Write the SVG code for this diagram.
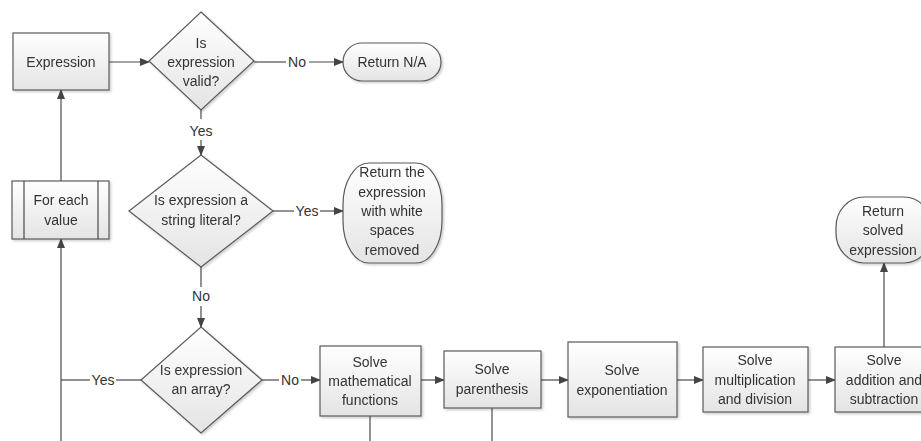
<svg xmlns="http://www.w3.org/2000/svg" width="921" height="441" viewBox="0 0 921 441">
<style>
.s{fill:url(#g);stroke:#5a5a5a;stroke-width:1.2}
.t{font-family:"Liberation Sans",Arial,sans-serif;font-size:14px;fill:#333;text-anchor:middle}
.c{fill:none;stroke:#4a4a4a;stroke-width:1.2}
.a{marker-end:url(#ar)}
</style>
<defs>
<linearGradient id="g" x1="0" y1="0" x2="0" y2="1"><stop offset="0" stop-color="#ffffff"/><stop offset="1" stop-color="#e4e4e4"/></linearGradient>
<filter id="sh" x="-10%" y="-10%" width="130%" height="130%"><feDropShadow dx="1.5" dy="1.5" stdDeviation="1" flood-color="#000" flood-opacity="0.2"/></filter>
<marker id="ar" markerWidth="10" markerHeight="8" refX="9" refY="4" orient="auto" markerUnits="userSpaceOnUse"><path d="M0,0 L10,4 L0,8 z" fill="#444"/></marker>
</defs>
<rect width="921" height="441" fill="#fff"/>
<g id="connectors">
<line class="c a" x1="109" y1="62" x2="149" y2="62"/>
<line class="c" x1="254" y1="62" x2="286" y2="62"/>
<line class="c a" x1="309" y1="62" x2="343" y2="62"/>
<text class="t" x="297" y="67">No</text>
<line class="c" x1="201" y1="110" x2="201" y2="119"/>
<text class="t" x="201" y="136">Yes</text>
<line class="c a" x1="201" y1="140" x2="201" y2="155"/>
<line class="c" x1="273" y1="211" x2="294" y2="211"/>
<text class="t" x="307" y="216">Yes</text>
<line class="c a" x1="320" y1="211" x2="343" y2="211"/>
<line class="c" x1="201" y1="267" x2="201" y2="287"/>
<text class="t" x="201" y="301">No</text>
<line class="c a" x1="201" y1="306" x2="201" y2="327"/>
<line class="c" x1="262" y1="380" x2="279" y2="380"/>
<text class="t" x="290" y="385">No</text>
<line class="c a" x1="301" y1="380" x2="320" y2="380"/>
<line class="c" x1="141" y1="380" x2="116" y2="380"/>
<text class="t" x="103" y="385">Yes</text>
<line class="c" x1="90" y1="380" x2="61" y2="380"/>
<line class="c a" x1="61" y1="441" x2="61" y2="239"/>
<line class="c a" x1="61" y1="181" x2="61" y2="90"/>
<line class="c a" x1="421" y1="380" x2="444" y2="380"/>
<line class="c a" x1="541" y1="380" x2="568" y2="380"/>
<line class="c a" x1="677" y1="380" x2="703" y2="380"/>
<line class="c a" x1="808" y1="380" x2="835" y2="380"/>
<line class="c a" x1="884" y1="347" x2="884" y2="263"/>
<line class="c" x1="370" y1="416" x2="370" y2="441"/>
<line class="c" x1="492" y1="408" x2="492" y2="441"/>
</g>
<g id="expression" filter="url(#sh)">
<rect class="s" x="13" y="33" width="96" height="57"/>
<text class="t" x="61" y="67">Expression</text>
</g>
<g id="valid" filter="url(#sh)">
<polygon class="s" points="201,12 254,61 201,110 149,61"/>
<text class="t" x="201" y="48">Is</text>
<text class="t" x="201" y="67">expression</text>
<text class="t" x="201" y="86">valid?</text>
</g>
<g id="return-na" filter="url(#sh)">
<rect class="s" x="343" y="43" width="98" height="38" rx="19"/>
<text class="t" x="392" y="67">Return N/A</text>
</g>
<g id="for-each" filter="url(#sh)">
<rect class="s" x="12" y="181" width="97" height="58"/>
<line class="c" x1="24" y1="181" x2="24" y2="239"/>
<line class="c" x1="98" y1="181" x2="98" y2="239"/>
<text class="t" x="61" y="205">For each</text>
<text class="t" x="61" y="225">value</text>
</g>
<g id="string-literal" filter="url(#sh)">
<polygon class="s" points="201,155 273,211 201,267 129,211"/>
<text class="t" x="201" y="205">Is expression a</text>
<text class="t" x="201" y="225">string literal?</text>
</g>
<g id="return-trimmed" filter="url(#sh)">
<rect class="s" x="343" y="163" width="99" height="100" rx="26" ry="42"/>
<text class="t" x="392" y="177">Return the</text>
<text class="t" x="392" y="197">expression</text>
<text class="t" x="392" y="216">with white</text>
<text class="t" x="392" y="235">spaces</text>
<text class="t" x="392" y="255">removed</text>
</g>
<g id="array" filter="url(#sh)">
<polygon class="s" points="201,327 262,380 201,433 141,380"/>
<text class="t" x="201" y="375">Is expression</text>
<text class="t" x="201" y="394">an array?</text>
</g>
<g id="solve-functions" filter="url(#sh)">
<rect class="s" x="320" y="346" width="101" height="70"/>
<text class="t" x="370" y="367">Solve</text>
<text class="t" x="370" y="386">mathematical</text>
<text class="t" x="370" y="405">functions</text>
</g>
<g id="solve-parenthesis" filter="url(#sh)">
<rect class="s" x="444" y="351" width="97" height="57"/>
<text class="t" x="492" y="374">Solve</text>
<text class="t" x="492" y="394">parenthesis</text>
</g>
<g id="solve-exponentiation" filter="url(#sh)">
<rect class="s" x="568" y="342" width="109" height="75"/>
<text class="t" x="622" y="375">Solve</text>
<text class="t" x="622" y="395">exponentiation</text>
</g>
<g id="solve-multiplication" filter="url(#sh)">
<rect class="s" x="703" y="347" width="105" height="65"/>
<text class="t" x="755" y="365">Solve</text>
<text class="t" x="755" y="385">multiplication</text>
<text class="t" x="755" y="404">and division</text>
</g>
<g id="solve-addition" filter="url(#sh)">
<rect class="s" x="835" y="347" width="100" height="65"/>
<text class="t" x="884" y="365">Solve</text>
<text class="t" x="884" y="385">addition and</text>
<text class="t" x="884" y="404">subtraction</text>
</g>
<g id="return-solved" filter="url(#sh)">
<rect class="s" x="836" y="197" width="96" height="66" rx="28" ry="30"/>
<text class="t" x="883" y="216">Return</text>
<text class="t" x="883" y="235">solved</text>
<text class="t" x="883" y="255">expression</text>
</g>
</svg>
